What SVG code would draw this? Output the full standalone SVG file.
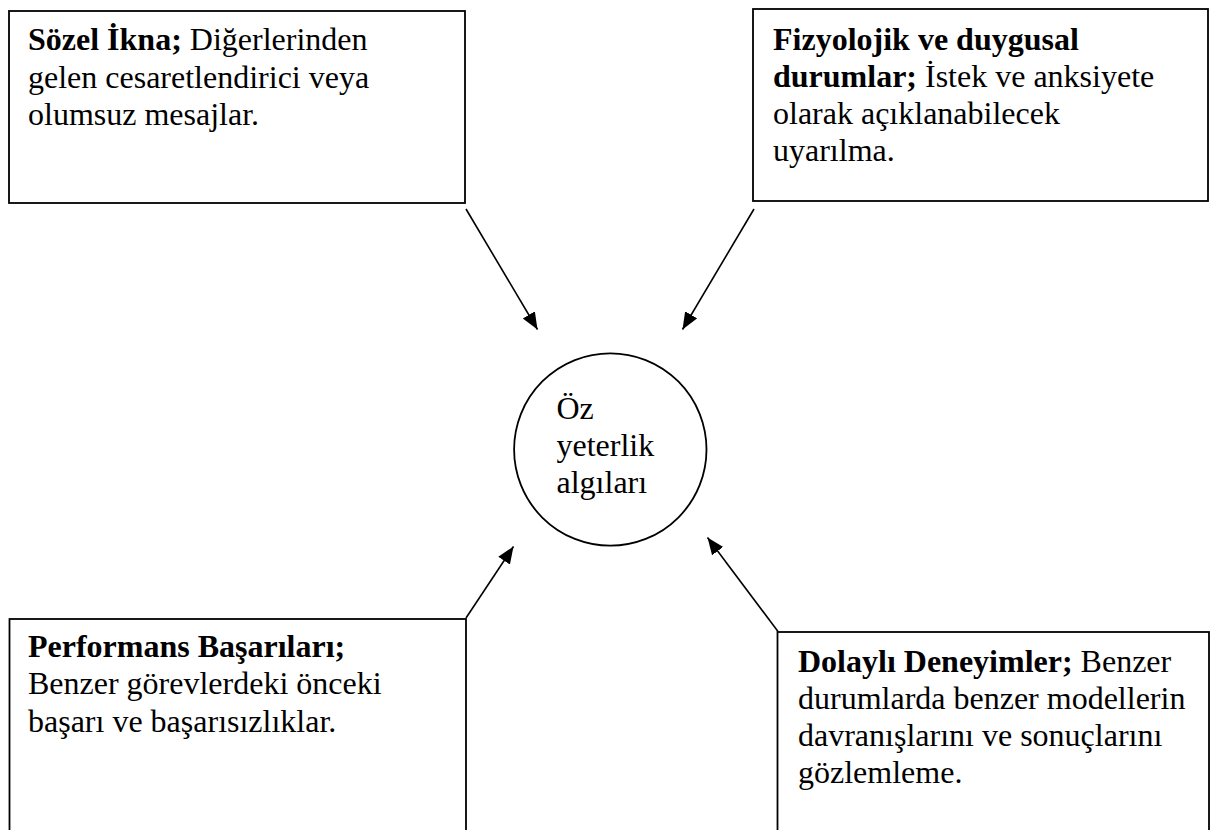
<svg xmlns="http://www.w3.org/2000/svg" width="1210" height="830" viewBox="0 0 1210 830">
<defs>
<style>
.box{fill:#fff;stroke:#000;stroke-width:1.8}
.t{font-family:'Times New Roman','Liberation Serif','DejaVu Serif',serif;font-size:32px;fill:#000}
.b{font-weight:bold}
.c{fill:none;stroke:#000;stroke-width:1.6}
</style>
<marker id="ah" markerUnits="userSpaceOnUse" markerWidth="20" markerHeight="16" refX="17" refY="7" orient="auto">
<path d="M0,0 L17,7 L0,14 Z" fill="#000"/>
</marker>
</defs>
<rect width="1210" height="830" fill="#fff"/>
<g id="connectors">
<line class="c" x1="466" y1="209" x2="537.5" y2="329.5" marker-end="url(#ah)"/>
<line class="c" x1="754" y1="209" x2="682.5" y2="329.5" marker-end="url(#ah)"/>
<line class="c" x1="466" y1="618" x2="513.5" y2="546.5" marker-end="url(#ah)"/>
<line class="c" x1="778" y1="631.5" x2="707.5" y2="537.5" marker-end="url(#ah)"/>
</g>
<g id="sozel-ikna">
<rect class="box" x="9" y="11" width="456" height="192"/>
<text class="t" x="28" y="50"><tspan class="b">Sözel İkna;</tspan> Diğerlerinden</text>
<text class="t" x="28" y="87.5">gelen cesaretlendirici veya</text>
<text class="t" x="28" y="125">olumsuz mesajlar.</text>
</g>
<g id="fizyolojik">
<rect class="box" x="753" y="9" width="455" height="192"/>
<text class="t" x="773" y="50"><tspan class="b">Fizyolojik ve duygusal</tspan></text>
<text class="t" x="773" y="87"><tspan class="b">durumlar;</tspan> İstek ve anksiyete</text>
<text class="t" x="773" y="124">olarak açıklanabilecek</text>
<text class="t" x="773" y="161">uyarılma.</text>
</g>
<g id="oz-yeterlik">
<circle cx="610.3" cy="449.5" r="96.2" fill="#fff" stroke="#000" stroke-width="1.8"/>
<text class="t" x="556.5" y="419">Öz</text>
<text class="t" x="556.5" y="456">yeterlik</text>
<text class="t" x="556.5" y="492.5">algıları</text>
</g>
<g id="performans">
<rect class="box" x="9.5" y="619" width="456.5" height="220"/>
<text class="t" x="28" y="656.5"><tspan class="b">Performans Başarıları;</tspan></text>
<text class="t" x="28" y="694">Benzer görevlerdeki önceki</text>
<text class="t" x="28" y="731.5">başarı ve başarısızlıklar.</text>
</g>
<g id="dolayli">
<rect class="box" x="777.5" y="632" width="431.5" height="210"/>
<text class="t" x="798" y="671.5"><tspan class="b">Dolaylı Deneyimler;</tspan> Benzer</text>
<text class="t" x="798" y="709">durumlarda benzer modellerin</text>
<text class="t" x="798" y="746">davranışlarını ve sonuçlarını</text>
<text class="t" x="798" y="783">gözlemleme.</text>
</g>
</svg>
